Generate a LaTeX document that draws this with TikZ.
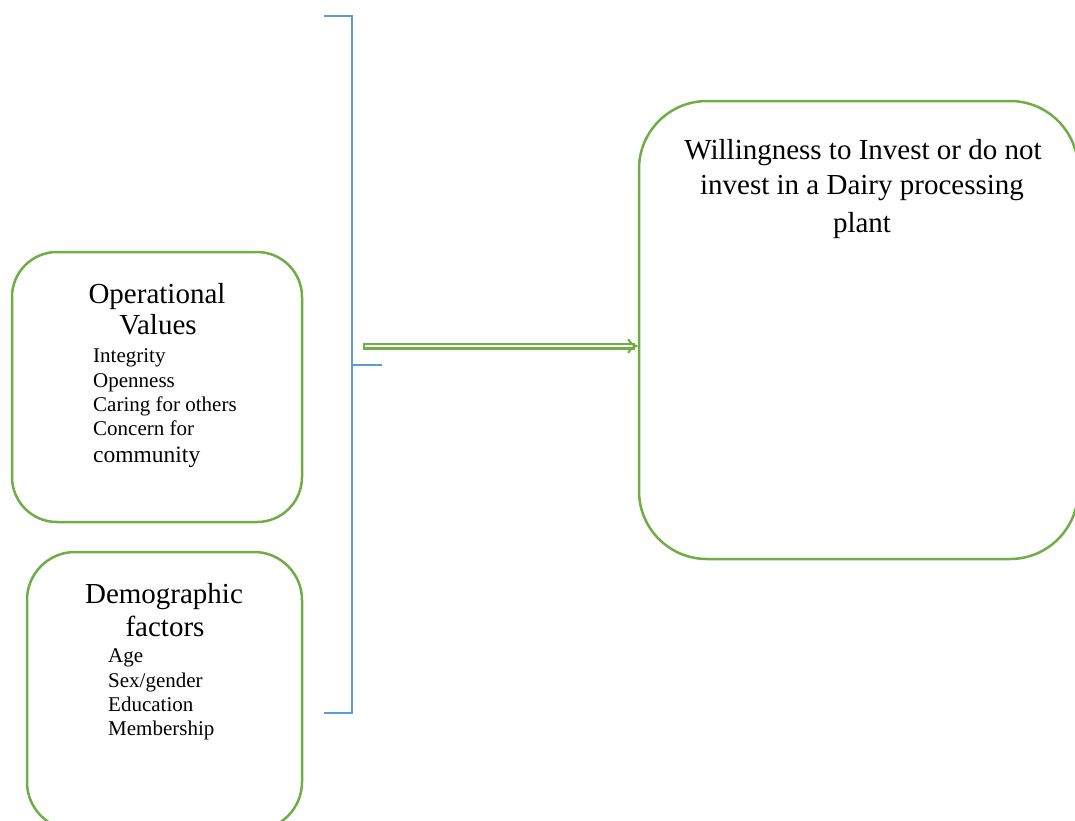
\documentclass[tikz,border=0pt]{standalone}
\usepackage{fontspec}
\setmainfont{Liberation Serif}
\usetikzlibrary{arrows.meta}
\definecolor{boxgreen}{HTML}{70AD47}
\definecolor{brblue}{HTML}{5B9BD5}
\begin{document}
\begin{tikzpicture}[x=1pt,y=-1pt,
  gbox/.style={draw=boxgreen,line width=2.5pt,rounded corners=#1,inner sep=0pt},
  head/.style={font=\fontsize{29}{34}\selectfont,anchor=base,inner sep=0pt},
  item/.style={font=\fontsize{21}{25}\selectfont,anchor=base west,inner sep=0pt},
  brk/.style={draw=brblue,line width=1.5pt},
  dbl/.style={draw=boxgreen,double=white,double distance=2.6pt,line width=2.2pt,line cap=rect,-{Implies[length=7pt,width=16pt]}}]
\useasboundingbox (0,0) rectangle (1075,820);
\clip (0,0) rectangle (1075,820);
% boxes
\node[gbox=45pt,minimum width=290pt,minimum height=270pt] (ov) at (157,387) {};
\node[gbox=48pt,minimum width=275pt,minimum height=278pt] (dem) at (164.5,691) {};
\node[gbox=68pt,minimum width=439pt,minimum height=458pt] (will) at (858.5,330) {};
% operational values text
\node[head] (ov1) at (157,303) {Operational};
\node[head] (ov2) at (158,334) {Values};
\node[item] (i1) at (93,362) {Integrity};
\node[item] (i2) at (93,387) {Openness};
\node[item] (i3) at (93,411) {Caring for others};
\node[item] (i4) at (93,435) {Concern for};
\node[item,font=\fontsize{23.5}{28}\selectfont] (i5) at (93,462) {community};
% demographic text
\node[head] (d1) at (164,603) {Demographic};
\node[head] (d2) at (165,636) {factors};
\node[item] (a1) at (108,662) {Age};
\node[item] (a2) at (108,687) {Sex/gender};
\node[item] (a3) at (108,711) {Education};
\node[item] (a4) at (108,735) {Membership};
% willingness text
\node[head] (w1) at (863,159) {Willingness to Invest or do not};
\node[head] (w2) at (862,194) {invest in a Dairy processing};
\node[head] (w3) at (862,232) {plant};
% bracket
\coordinate (bt) at (324,16);
\coordinate (bb) at (324,713);
\coordinate (bm) at (382,365);
\draw[brk] (bt) -- (bt -| 352,0) -- (bb -| 352,0) -- (bb);
\draw[brk] (bm -| 352,0) -- (bm);
% arrow
\coordinate (as) at (366,346);
\draw[dbl] (as) -- (as -| will.west);
\end{tikzpicture}
\end{document}
